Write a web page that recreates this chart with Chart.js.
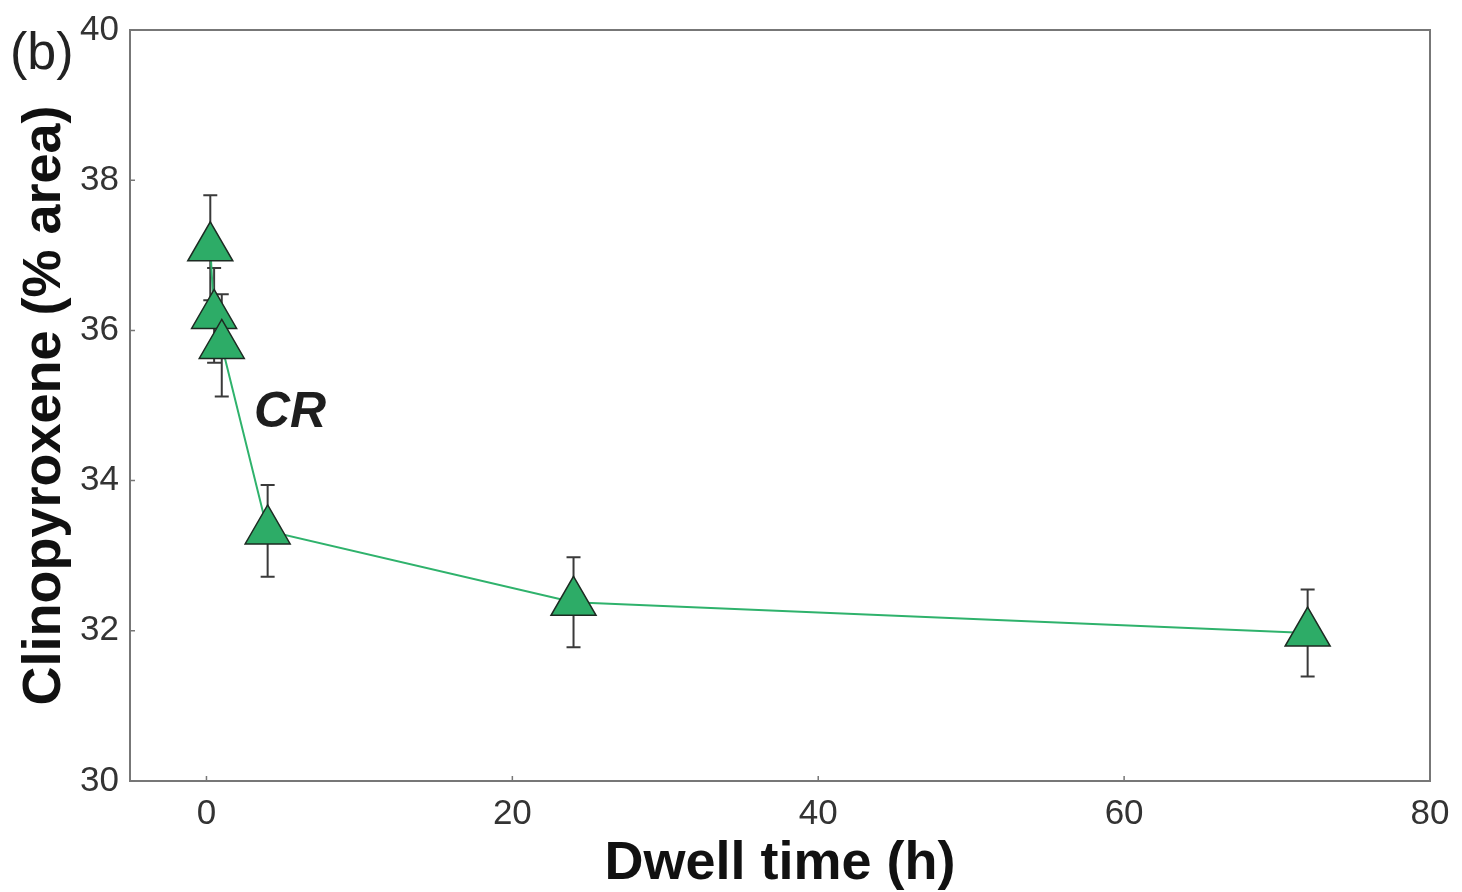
<!DOCTYPE html>
<html>
<head>
<meta charset="utf-8">
<script src="https://cdn.jsdelivr.net/npm/chart.js@4/dist/chart.umd.min.js"></script>
<style>
  html, body { margin: 0; padding: 0; background: #ffffff; }
  #wrap { position: relative; width: 1462px; height: 892px; }
</style>
</head>
<body>
<div id="wrap"><canvas id="c" width="1462" height="892"></canvas></div>
<script>
// Dwell time (h) and clinopyroxene content (% area) with ±1σ error
const dwellTime = [0.25, 0.5, 1, 4, 24, 72];
const cpxArea = [37.1, 36.2, 35.8, 33.33, 32.38, 31.97];
const cpxError = [0.7, 0.63, 0.68, 0.61, 0.6, 0.58];
const xTicks = [0, 20, 40, 60, 80];
const yTicks = [30, 32, 34, 36, 38, 40];
const seriesLabel = 'CR';

const points = dwellTime.map((t, i) => ({ x: t, y: cpxArea[i] }));

// Vertical error bars with caps, drawn under the markers
const errorBars = {
  id: 'errorBars',
  beforeDatasetsDraw(chart) {
    const { ctx, scales: { x, y } } = chart;
    ctx.save();
    ctx.strokeStyle = '#3a3a3a';
    ctx.lineWidth = 2;
    const cap = 7;
    dwellTime.forEach((t, i) => {
      const px = x.getPixelForValue(t);
      const top = y.getPixelForValue(cpxArea[i] + cpxError[i]);
      const bot = y.getPixelForValue(cpxArea[i] - cpxError[i]);
      ctx.beginPath();
      ctx.moveTo(px, top); ctx.lineTo(px, bot);
      ctx.moveTo(px - cap, top); ctx.lineTo(px + cap, top);
      ctx.moveTo(px - cap, bot); ctx.lineTo(px + cap, bot);
      ctx.stroke();
    });
    ctx.restore();
  }
};

// Box frame, short inward ticks, panel letter and series label
const frame = {
  id: 'frame',
  afterDraw(chart) {
    const { ctx, chartArea: a, scales: { x, y } } = chart;
    ctx.save();
    ctx.strokeStyle = '#777777';
    ctx.lineWidth = 2;
    ctx.strokeRect(a.left, a.top, a.right - a.left, a.bottom - a.top);
    ctx.lineWidth = 1.5;
    ctx.beginPath();
    xTicks.forEach(v => {
      const px = x.getPixelForValue(v);
      ctx.moveTo(px, a.bottom); ctx.lineTo(px, a.bottom - 5);
    });
    yTicks.forEach(v => {
      const py = y.getPixelForValue(v);
      ctx.moveTo(a.left, py); ctx.lineTo(a.left + 5, py);
    });
    ctx.stroke();

    ctx.fillStyle = '#222222';
    ctx.font = '52px "Liberation Sans", Arial, sans-serif';
    ctx.textBaseline = 'alphabetic';
    ctx.textAlign = 'left';
    ctx.fillText('(b)', 10, 69);

    ctx.fillStyle = '#1e1e1e';
    ctx.font = 'italic bold 50px "Liberation Sans", Arial, sans-serif';
    ctx.fillText(seriesLabel, x.getPixelForValue(3.1), y.getPixelForValue(34.72));
    ctx.restore();
  }
};

new Chart(document.getElementById('c'), {
  type: 'line',
  data: {
    datasets: [{
      label: seriesLabel,
      data: points,
      borderColor: '#2fb26c',
      borderWidth: 2,
      backgroundColor: '#2dac67',
      pointStyle: 'triangle',
      pointRadius: 26,
      pointHoverRadius: 26,
      pointBackgroundColor: '#2dac67',
      pointBorderColor: '#1d2a22',
      pointBorderWidth: 1.5,
      tension: 0,
      fill: false
    }]
  },
  options: {
    responsive: false,
    animation: false,
    events: [],
    layout: { padding: { left: 0, right: 32, top: 30, bottom: 0 } },
    plugins: {
      legend: { display: false },
      tooltip: { enabled: false }
    },
    scales: {
      x: {
        type: 'linear',
        min: -5,
        max: 80,
        afterBuildTicks(scale) { scale.ticks = xTicks.map(v => ({ value: v })); },
        afterFit(scale) { scale.height = 111; },
        grid: { display: false, drawTicks: false },
        border: { display: false },
        ticks: {
          color: '#333333',
          padding: 12,
          font: { family: '"Liberation Sans", Arial, sans-serif', size: 35 }
        },
        title: {
          display: true,
          text: 'Dwell time (h)',
          color: '#111111',
          padding: { top: 0, bottom: -5 },
          font: { family: '"Liberation Sans", Arial, sans-serif', size: 54, weight: 'bold' }
        }
      },
      y: {
        type: 'linear',
        min: 30,
        max: 40,
        afterBuildTicks(scale) { scale.ticks = yTicks.map(v => ({ value: v })); },
        afterFit(scale) {
          scale.width = 130;
          scale.paddingTop = 0;
          scale.paddingBottom = 0;
        },
        grid: { display: false, drawTicks: false },
        border: { display: false },
        ticks: {
          color: '#333333',
          padding: 11,
          font: { family: '"Liberation Sans", Arial, sans-serif', size: 35 }
        },
        title: {
          display: true,
          text: 'Clinopyroxene (% area)',
          color: '#111111',
          padding: { top: 13, bottom: 0 },
          font: { family: '"Liberation Sans", Arial, sans-serif', size: 54, weight: 'bold' }
        }
      }
    }
  },
  plugins: [errorBars, frame]
});
</script>
</body>
</html>
